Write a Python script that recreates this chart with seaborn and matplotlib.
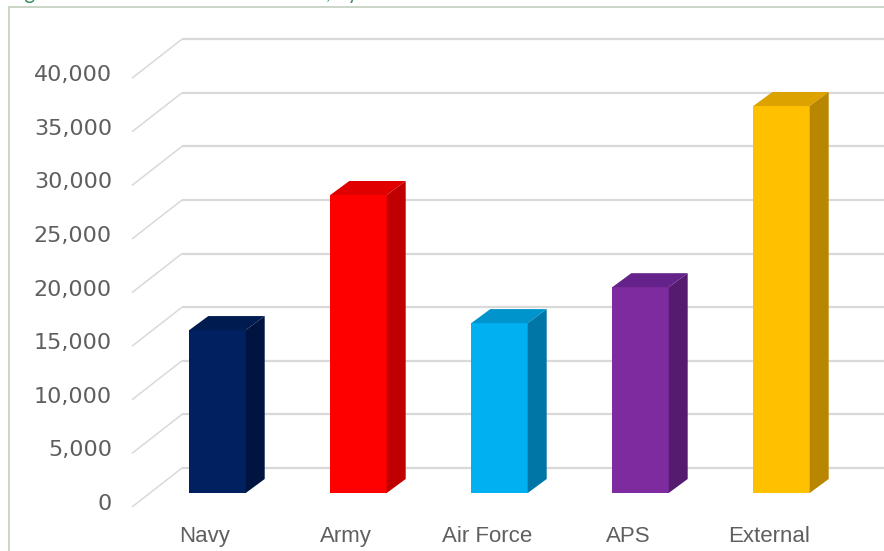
import matplotlib
matplotlib.use("Agg")
import matplotlib.pyplot as plt
from matplotlib.patches import Polygon
from matplotlib.lines import Line2D
import seaborn as sns

# Data
categories = ["Navy", "Army", "Air Force", "APS", "External"]
values = [15200, 27800, 15850, 19200, 36100]
y_ticks = [0, 5000, 10000, 15000, 20000, 25000, 30000, 35000, 40000]
tick_labels = ["0", "5,000", "10,000", "15,000", "20,000", "25,000", "30,000", "35,000", "40,000"]

front_colors = ["#002060", "#ff0000", "#00b0f0", "#7e2ba0", "#ffc000"]
top_colors = ["#001b50", "#e00000", "#0094cc", "#65228a", "#dca200"]
side_colors = ["#00143f", "#c00000", "#0076a6", "#551b6f", "#b88600"]

W, H, DPI = 884, 551, 100
sns.set_theme(style="white")
plt.rcParams["font.family"] = ["DejaVu Sans"]

fig = plt.figure(figsize=(W / DPI, H / DPI), dpi=DPI)
fig.patch.set_facecolor("white")
ax = fig.add_axes([0, 0, 1, 1])

sns.barplot(x=categories, y=values, hue=categories, palette=front_colors,
            saturation=1, width=0.40, legend=False, ax=ax, zorder=3,
            linewidth=0, edgecolor="none")

# Axis scale: category pitch 141 px, 53.6 px per 5,000
ax.set_xlim(-1.5426, 4.7270)
ax.set_ylim(-5410, 45989)
ax.axis("off")

fig.canvas.draw()
p0 = ax.transData.transform((0, 0))
p1 = ax.transData.transform((1, 10000))
ux = 1.0 / (p1[0] - p0[0])          # data x per pixel
uy = 10000.0 / (p1[1] - p0[1])      # data y per pixel

# Depth of each column
dxb, dyb = 19 * ux, 14 * uy
for patch, tc, sc in zip(ax.patches, top_colors, side_colors):
    x0 = patch.get_x()
    x1 = x0 + patch.get_width()
    h = patch.get_height()
    top = Polygon([(x0, h), (x1, h), (x1 + dxb, h + dyb), (x0 + dxb, h + dyb)],
                  closed=True, facecolor=tc, edgecolor="none", zorder=3)
    side = Polygon([(x1, 0), (x1, h), (x1 + dxb, h + dyb), (x1 + dxb, dyb)],
                   closed=True, facecolor=sc, edgecolor="none", zorder=3)
    ax.add_patch(top)
    ax.add_patch(side)

# Back wall gridlines with their receding side-wall segments
xc = -0.479
grid_col = "#d9d9d9"
for v, lab in zip(y_ticks, tick_labels):
    fx, fy = xc - 18 * ux, v - 14 * uy
    bx, by = xc + 32 * ux, v + 25 * uy
    ax.plot([fx, bx], [fy, by], color=grid_col, lw=1.1, zorder=1,
            solid_capstyle="butt")
    ax.plot([bx, 4.8], [by, by], color=grid_col, lw=1.6, zorder=1,
            solid_capstyle="butt")
    ax.text(xc - 38 * ux, v - 17 * uy, lab, ha="right", va="baseline",
            fontsize=16, color="#5f5f5f", family="DejaVu Sans")

for i, name in enumerate(categories):
    ax.text(i - 12.5 * ux, -49 * uy, name, ha="center", va="baseline",
            fontsize=16, color="#5f5f5f", family="Liberation Sans")

# Chart frame
frame_col = "#bccab8"
fig.add_artist(Line2D([9 / W, 9 / W], [0, 1 - 7 / H], color=frame_col, lw=1.1))
fig.add_artist(Line2D([9 / W, 1], [1 - 7 / H, 1 - 7 / H], color=frame_col, lw=1.1))

# Caption above the frame
fig.text(8 / W, 1 + 1 / H, "Figure 4: Total number of members, by service",
         ha="left", va="baseline", fontsize=14.8, color="#3a8f5c", family="Lato")

fig.savefig("out.png", dpi=DPI, facecolor="white")
